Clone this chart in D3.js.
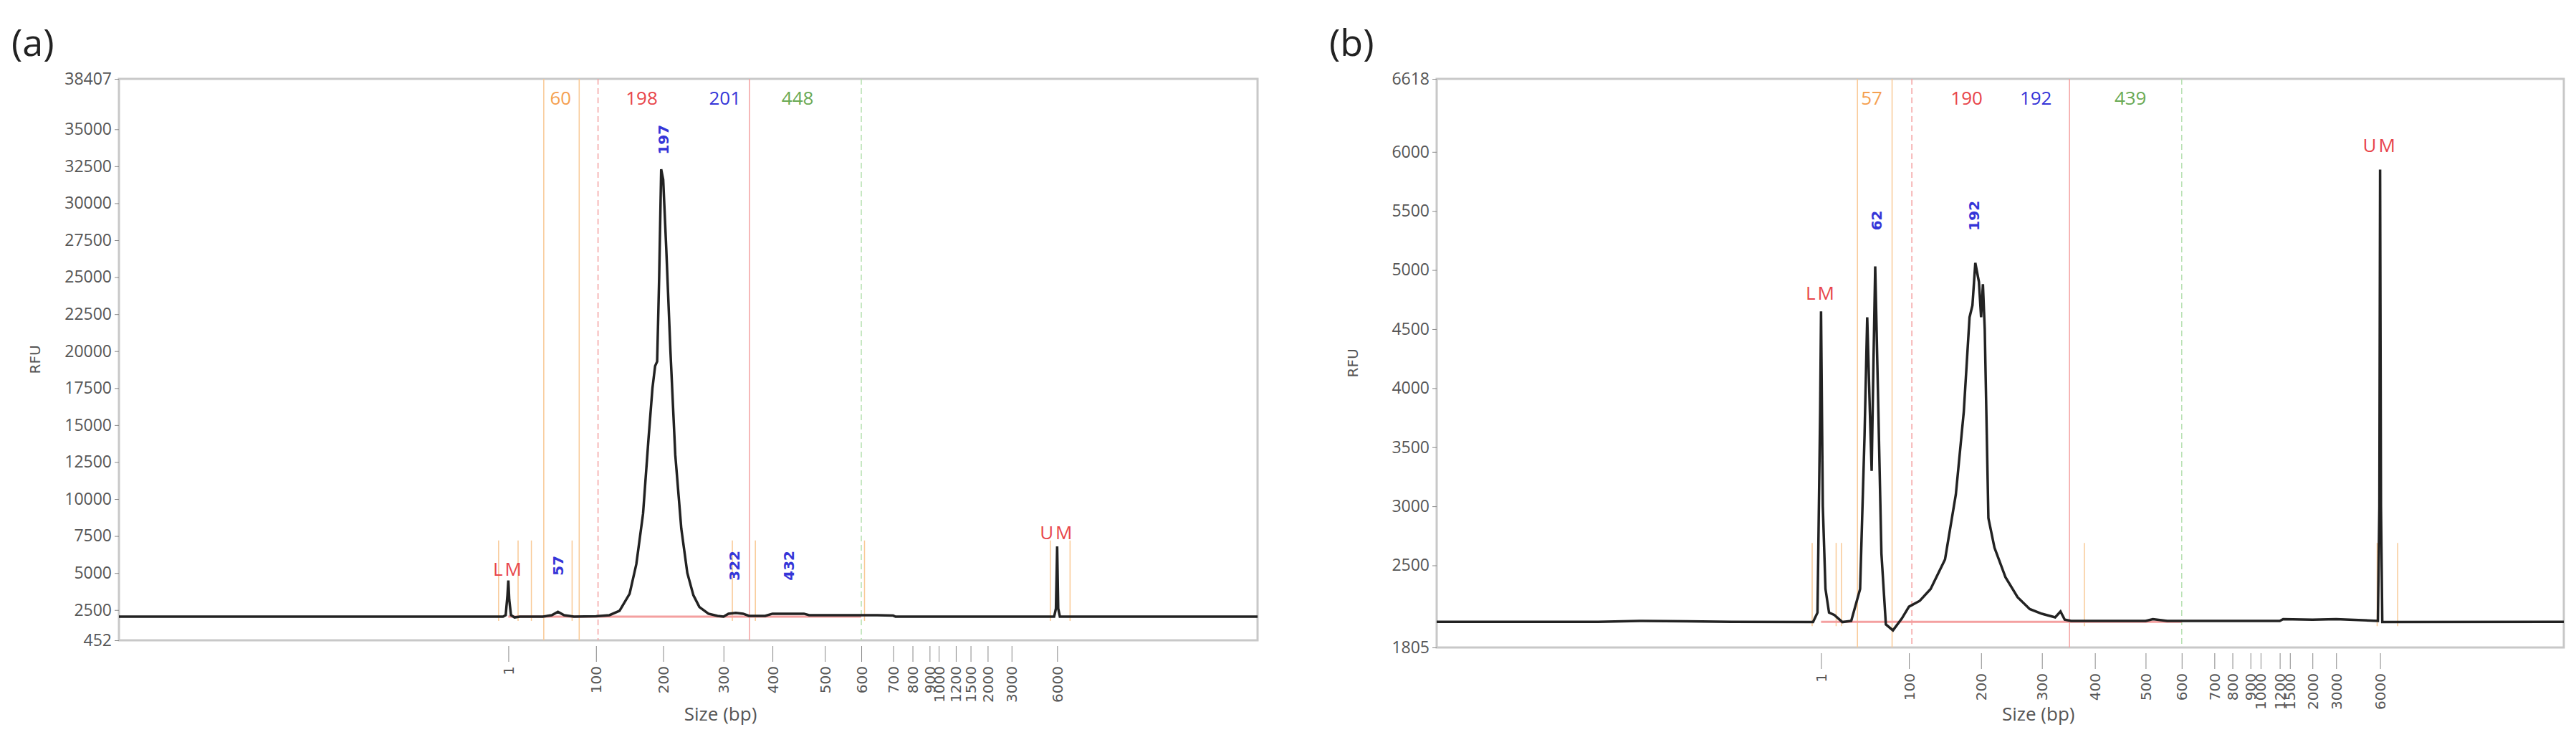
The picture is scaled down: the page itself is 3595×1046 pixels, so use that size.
<!DOCTYPE html>
<html>
<head>
<meta charset="utf-8">
<script src="https://cdn.jsdelivr.net/npm/d3@7"></script>
<style>
  body { margin: 0; background: #fff; }
  text { font-family: "Liberation Sans Narrow", "Open Sans", sans-serif; }
</style>
</head>
<body>
<svg width="3595" height="1046"></svg>
<script>
// size axis ticks (bp) and where they sit along the axis (fraction of width)
var sizeTicks = [1, 100, 200, 300, 400, 500, 600, 700, 800, 900, 1000, 1200, 1500, 2000, 3000, 6000];
var tickFracA = [0.342, 0.419, 0.478, 0.531, 0.574, 0.620, 0.652, 0.680, 0.697, 0.712, 0.720, 0.735, 0.748, 0.763, 0.784, 0.824];
var tickFracB = [0.341, 0.419, 0.483, 0.537, 0.584, 0.629, 0.661, 0.690, 0.706, 0.722, 0.731, 0.748, 0.757, 0.777, 0.798, 0.837];

var yTicksA = [452, 2500, 5000, 7500, 10000, 12500, 15000, 17500, 20000, 22500, 25000, 27500, 30000, 32500, 35000, 38407];
var yTicksB = [1805, 2500, 3000, 3500, 4000, 4500, 5000, 5500, 6000, 6618];

// traces: [size bp, RFU]
var traceA = [[-5, 2050], [-2, 2150], [0, 3500], [1, 4500], [2, 3200], [4, 2150], [8, 2000], [14, 2050],
  [40, 2050], [50, 2150], [57, 2380], [64, 2150], [75, 2050], [100, 2080], [120, 2150], [135, 2450],
  [150, 3600], [160, 5600], [170, 9000], [178, 14000], [184, 17500], [188, 19000], [191, 19300],
  [194, 25000], [197, 32300], [200, 31600], [205, 27000], [212, 20000], [220, 13000], [230, 8000],
  [240, 5000], [250, 3500], [260, 2700], [275, 2250], [290, 2100], [300, 2050], [310, 2250],
  [325, 2300], [340, 2250], [352, 2100], [385, 2100], [400, 2250], [460, 2250], [470, 2150],
  [650, 2150], [700, 2120], [712, 2050], [5800, 2050], [5920, 2600], [6000, 6800], [6070, 2600], [6180, 2050]];
var traceB = [[-250, 2022], [-200, 2030], [-150, 2026], [-100, 2022], [-8, 2020], [-3, 2100], [0, 3800], [1, 4650],
  [3, 3000], [6, 2300], [10, 2100], [16, 2080], [25, 2020], [35, 2030], [45, 2300], [50, 3600],
  [53, 4600], [56, 3800], [58, 3300], [60, 4200], [62, 5030], [65, 4000], [69, 2600], [74, 2000],
  [82, 1950], [92, 2050], [100, 2150], [115, 2200], [130, 2300], [150, 2550], [165, 3100],
  [176, 3800], [184, 4600], [188, 4700], [192, 5060], [197, 4900], [200, 4600], [203, 4880],
  [206, 4500], [212, 2900], [222, 2650], [240, 2400], [260, 2230], [280, 2130], [300, 2090],
  [325, 2060], [335, 2110], [343, 2040], [355, 2030], [500, 2030], [520, 2045], [560, 2030],
  [1200, 2030], [1300, 2045], [2000, 2040], [3000, 2045], [5850, 2030], [5950, 3000],
  [6000, 5850], [6060, 3000], [6150, 2020]];

// marker lines and labels
var vlinesA = [[41, "#f9c995", ""], [81, "#f9c995", ""], [103, "#f4a0a0", "8,5"], [353, "#f4a0a0", ""], [600, "#b5e0b0", "8,5"]];
var vlinesB = [[42, "#f9c995", ""], [81, "#f9c995", ""], [104, "#f4a0a0", "8,5"], [352, "#f4a0a0", ""], [600, "#b5e0b0", "8,5"]];
var shortA = [-10, 12, 27, 73, 318, 365, 610, 5550, 6850];
var shortB = [-9, 18, 24, 380, 5800, 7200];
var topLabelsA = [["60", 60, "#f5a050"], ["198", 168, "#e8454a"], ["201", 303, "#3535d8"], ["448", 448, "#6aaa55"]];
var topLabelsB = [["57", 58, "#f5a050"], ["190", 180, "#e8454a"], ["192", 290, "#3535d8"], ["439", 470, "#6aaa55"]];
var peakLabelsA = [["197", 200, 34300, "#3535d8"], ["57", 57, 5500, "#3535d8"], ["322", 322, 5500, "#3535d8"], ["432", 432, 5500, "#3535d8"]];
var peakLabelsB = [["62", 64, 5420, "#3535d8"], ["192", 190, 5460, "#3535d8"]];
var markerLabelsA = [["LM", 1, 4800], ["UM", 6000, 7300]];
var markerLabelsB = [["LM", 1, 4750], ["UM", 6000, 6000]];

var svg = d3.select('svg');

function panel(o) {
  var w = o.x1 - o.x0, h = o.y1 - o.y0;
  var g = svg.append('g').attr('transform', 'translate(' + o.x0 + ',' + o.y0 + ')');
  var x = d3.scaleLinear().domain(sizeTicks).range(o.frac.map(function (f) { return f * w; }));
  var y = d3.scaleLinear().domain([o.yTicks[0], o.yTicks[o.yTicks.length - 1]]).range([h, 0]);

  g.append('rect').attr('width', w).attr('height', h)
    .attr('fill', 'none').attr('stroke', '#c8c8c8').attr('stroke-width', 3);

  // y axis
  var ya = g.append('g').call(d3.axisLeft(y).tickValues(o.yTicks).tickSize(6).tickPadding(4).tickFormat(d3.format('d')));
  ya.select('.domain').remove();
  ya.selectAll('line').attr('stroke', '#888');
  ya.selectAll('text').attr('fill', '#555').style('font-size', '23px');

  // x axis, rotated labels
  var xa = g.append('g').attr('transform', 'translate(0,' + (h + 8) + ')')
    .call(d3.axisBottom(x).tickValues(sizeTicks).tickSize(22).tickFormat(d3.format('d')));
  xa.select('.domain').remove();
  xa.selectAll('line').attr('stroke', '#888');
  xa.selectAll('text').attr('fill', '#555')
    .attr('transform', 'rotate(-90)').attr('text-anchor', 'end')
    .attr('x', -28).attr('y', 0).attr('dy', '0.35em')
    .style('font-family', '"DejaVu Sans", sans-serif').style('font-size', '20px');

  // short orange tick marks
  g.selectAll('.short').data(o.short).join('line')
    .attr('x1', function (d) { return x(d); }).attr('x2', function (d) { return x(d); })
    .attr('y1', y(o.shortTop)).attr('y2', y(o.baseline) + 6)
    .attr('stroke', '#f9c995').attr('stroke-width', 1.5);

  // tall marker lines
  g.selectAll('.vl').data(o.vlines).join('line')
    .attr('x1', function (d) { return x(d[0]); }).attr('x2', function (d) { return x(d[0]); })
    .attr('y1', 0).attr('y2', h)
    .attr('stroke', function (d) { return d[1]; }).attr('stroke-width', 1.5)
    .attr('stroke-dasharray', function (d) { return d[2] || null; });

  // integration baseline
  g.append('line').attr('x1', x(1)).attr('x2', x(600)).attr('y1', y(o.baseline)).attr('y2', y(o.baseline))
    .attr('stroke', '#f4a0a0').attr('stroke-width', 3);

  // trace, flat to the frame edges
  var pts = [[x.invert(0), o.baseline]].concat(o.trace, [[x.invert(w), o.baseline]]);
  g.append('path').datum(pts)
    .attr('d', d3.line().x(function (d) { return x(d[0]); }).y(function (d) { return y(d[1]); }))
    .attr('fill', 'none').attr('stroke', '#222').attr('stroke-width', 3.5);

  g.selectAll('.tl').data(o.topLabels).join('text')
    .attr('x', function (d) { return x(d[1]); }).attr('y', 36)
    .attr('text-anchor', 'middle').attr('fill', function (d) { return d[2]; })
    .style('font-size', '26px').text(function (d) { return d[0]; });

  g.selectAll('.pl').data(o.peakLabels).join('text')
    .attr('transform', function (d) { return 'translate(' + (x(d[1]) + 7) + ',' + y(d[2]) + ') rotate(-90)'; })
    .attr('text-anchor', 'middle').attr('fill', function (d) { return d[3]; })
    .style('font-size', '20px').style('font-weight', 'bold')
    .style('font-family', '"DejaVu Sans", sans-serif').text(function (d) { return d[0]; });

  g.selectAll('.ml').data(o.markerLabels).join('text')
    .attr('x', function (d) { return x(d[1]); }).attr('y', function (d) { return y(d[2]); })
    .attr('text-anchor', 'middle').attr('fill', '#e8454a')
    .style('font-size', '26px').style('letter-spacing', '3px').text(function (d) { return d[0]; });

  svg.append('text').attr('transform', 'translate(' + (o.x0 - 110) + ',' + (o.y0 + h / 2) + ') rotate(-90)')
    .attr('text-anchor', 'middle').attr('fill', '#555').style('font-size', '20px')
    .style('font-family', '"DejaVu Sans", sans-serif').text('RFU');
  svg.append('text').attr('x', o.x0 + x(200) + 80).attr('y', 1005)
    .attr('text-anchor', 'middle').attr('fill', '#555').style('font-size', '26px').text('Size (bp)');
  svg.append('text').attr('x', o.x0 - 150).attr('y', 78)
    .attr('fill', '#222').style('font-size', '52px')
    .style('font-family', '"Open Sans", sans-serif').text(o.tag);
}

panel({ x0: 166, x1: 1755, y0: 110, y1: 893, frac: tickFracA, yTicks: yTicksA, trace: traceA,
  baseline: 2050, shortTop: 7200, short: shortA, vlines: vlinesA, topLabels: topLabelsA,
  peakLabels: peakLabelsA, markerLabels: markerLabelsA, tag: '(a)' });
panel({ x0: 2005, x1: 3578, y0: 110, y1: 903, frac: tickFracB, yTicks: yTicksB, trace: traceB,
  baseline: 2022, shortTop: 2690, short: shortB, vlines: vlinesB, topLabels: topLabelsB,
  peakLabels: peakLabelsB, markerLabels: markerLabelsB, tag: '(b)' });
</script>
</body>
</html>
